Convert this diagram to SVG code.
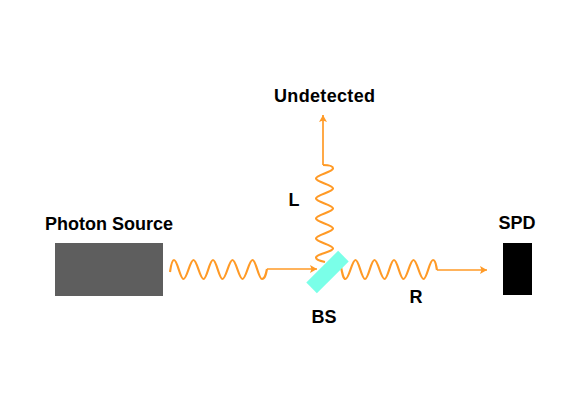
<svg xmlns="http://www.w3.org/2000/svg" width="581" height="411" viewBox="0 0 581 411">
<style>
.w{fill:none;stroke:#FF9A26;stroke-width:2.2}
.l{fill:none;stroke:#FF9A26;stroke-width:1.7;marker-end:url(#a)}
text{font-family:"Liberation Sans",Arial,sans-serif;font-weight:700;font-size:18px;fill:#000;text-anchor:middle}
</style>
<defs><marker id="a" markerUnits="userSpaceOnUse" markerWidth="9" markerHeight="10" refX="7" refY="5" orient="auto"><path d="M0 1 L7 5 L0 9 L1.5 5 Z" fill="#FF9A26"/></marker></defs>
<rect width="581" height="411" fill="#fff"/>
<g id="connectors">
<path class="w" d="M170 272C171 265 172 260 174 260C177.500 260 180 279 183.500 279C187 279 190 260 193.500 260C197 260 200 279 203.500 279C207 279 209.500 260 213 260C216.500 260 219 279 222.500 279C226 279 229 260 232.500 260C236 260 239 279 242.500 279C246 279 249 260 252.500 260C256 260 258.500 279 262 279C265 279 266 274 267 269"/>
<path class="l" d="M267 269H317"/>
<path class="w" d="M323 165C328 165 333 166 333 168.500C333 172 316 175 316 178.500C316 182 333 185 333 188.500C333 192 316 195 316 198.500C316 202 333 205 333 208.500C333 212 316 215 316 218.500C316 222 333 225 333 228.500C333 232 316 235 316 238.500C316 242 333 245 333 248.500C333 252 316 254 316 257.500C316 260 320 261 325 262"/>
<path class="l" d="M323 165V115"/>
<path class="w" d="M340 262C342 272 343 279 345.500 279C349 279 352 260 355.500 260C359 260 361.500 279 365 279C368.500 279 371 260 374.500 260C378 260 381 279 384.500 279C388 279 390.500 260 394 260C397.500 260 400 279 403.500 279C407 279 410 260 413.500 260C417 260 420 279 423.500 279C427 279 429.500 260 433 260C436 260 436 266 437 270"/>
<path class="l" d="M437 270H487"/>
</g>
<g id="photon-source"><rect x="55" y="243" width="108" height="53" fill="#5E5E5E"/><text x="109" y="230">Photon Source</text></g>
<g id="beam-splitter"><rect x="305" y="264.500" width="45" height="15" fill="#7AFFE8" transform="rotate(-45 327.500 272)"/><text x="324" y="323">BS</text></g>
<g id="spd"><rect x="503" y="243" width="29" height="52" fill="#000"/><text x="517" y="229">SPD</text></g>
<g id="undetected"><text x="324.500" y="102" textLength="101" lengthAdjust="spacing">Undetected</text></g>
<g id="label-l"><text x="294" y="206">L</text></g>
<g id="label-r"><text x="416" y="303">R</text></g>
</svg>
